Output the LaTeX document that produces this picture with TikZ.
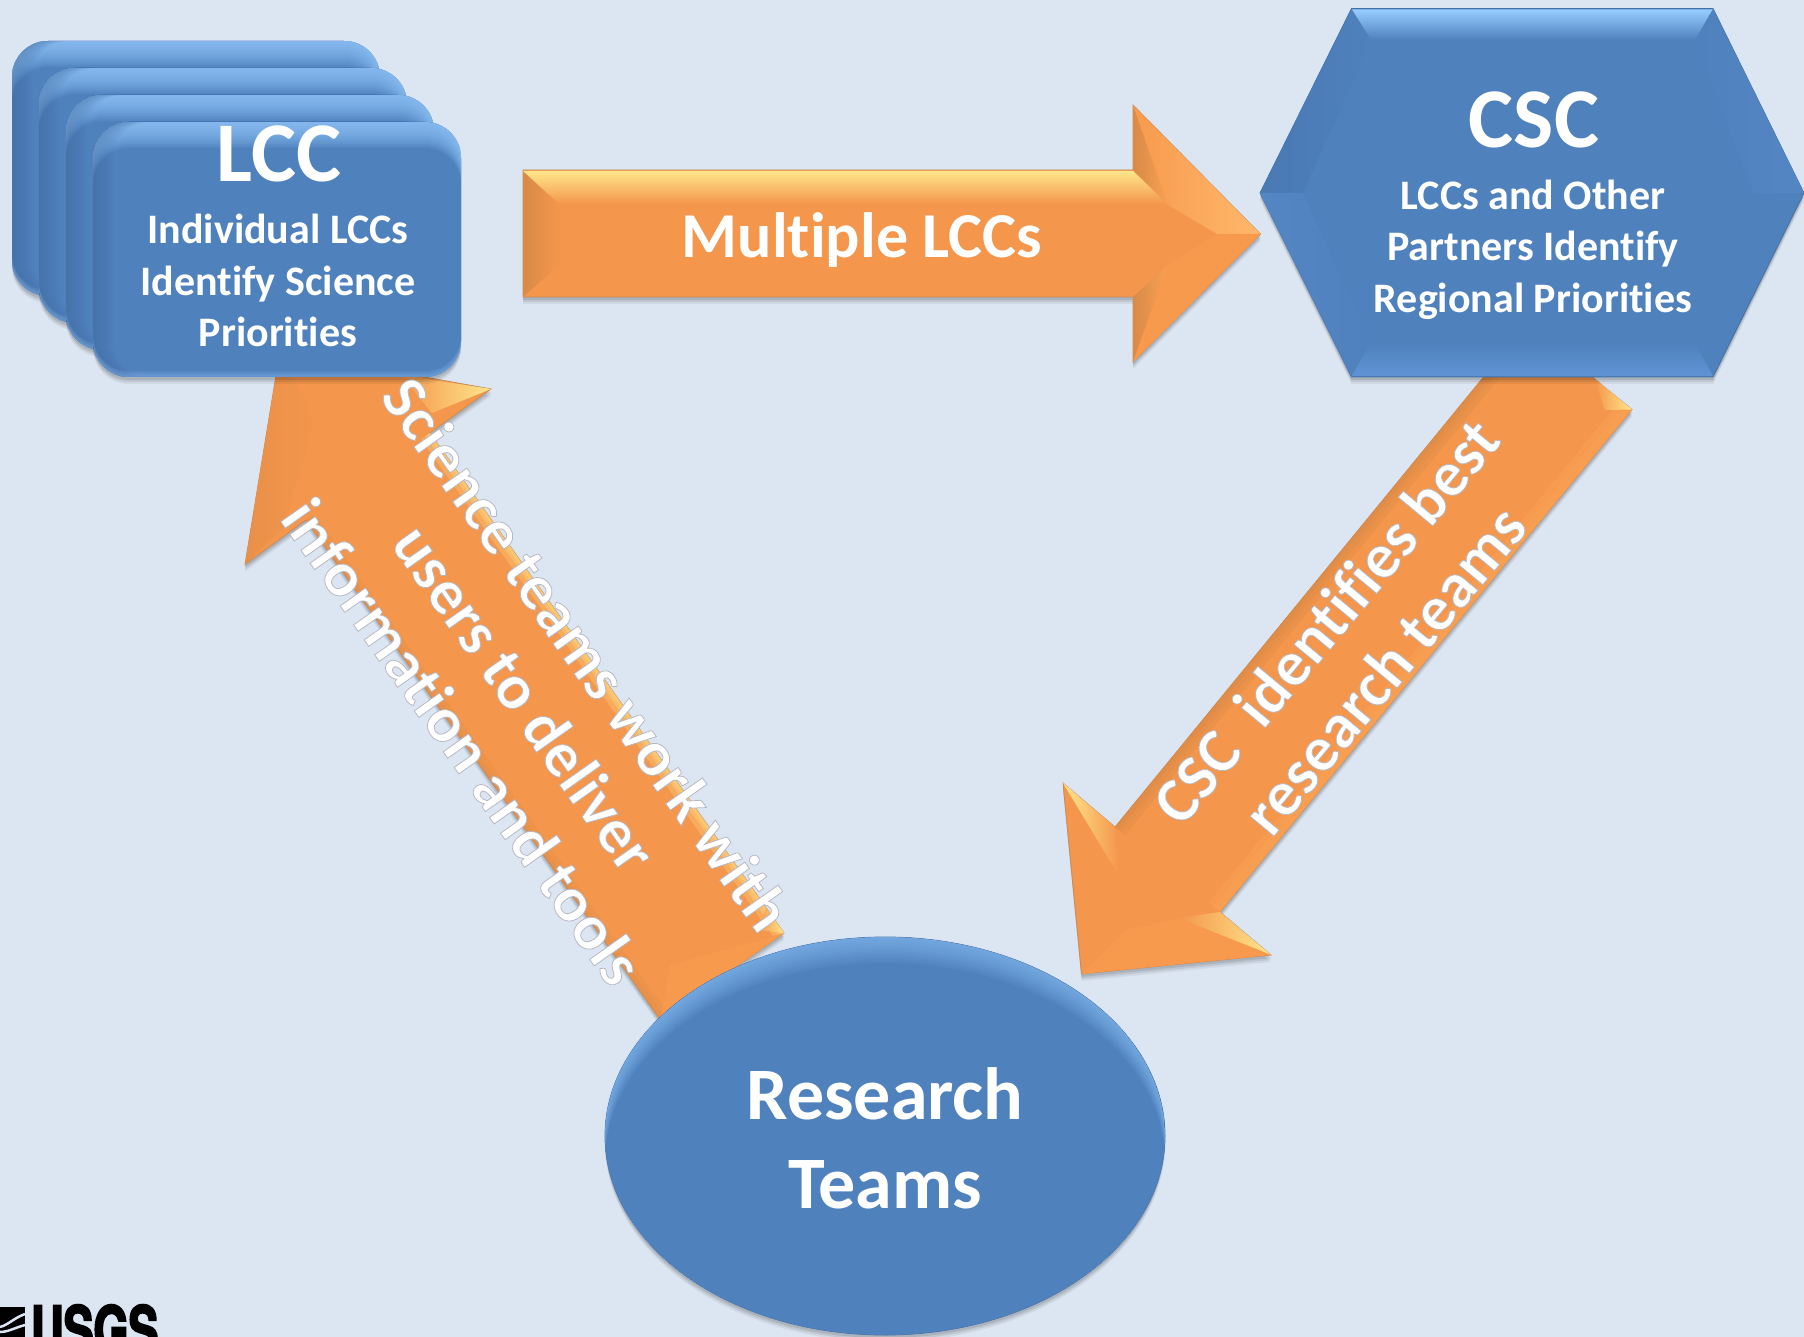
\documentclass[tikz,border=0pt]{standalone}
\usepackage{fontspec}
\setmainfont{Carlito}[Ligatures=NoCommon]
\newfontfamily\usgsfont{TeX Gyre Heros}[FakeStretch=0.68,BoldFeatures={FakeBold=3}]
\usetikzlibrary{shadows}
\definecolor{bgc}{HTML}{DCE6F2}
\definecolor{blu}{HTML}{4F81BD}
\definecolor{blulite}{HTML}{96CCFF}
\definecolor{bludark}{HTML}{3F6699}
\definecolor{bluedge}{HTML}{4570A6}
\definecolor{blusoft}{HTML}{5F93D4}
\definecolor{blurim}{HTML}{8DBBF2}
\definecolor{blumid}{HTML}{5586C4}
\definecolor{blushade}{HTML}{4A79B3}
\definecolor{bluoval}{HTML}{5C90D2}
\definecolor{org}{HTML}{F4964B}
\definecolor{orgdark}{HTML}{D88A48}
\definecolor{orgwarm}{HTML}{E8904A}
\definecolor{orgsoft}{HTML}{F9A153}
\definecolor{orgmild}{HTML}{F79A4E}
\definecolor{orgpale}{HTML}{FFB86B}
\definecolor{orgedge}{HTML}{C98C58}
\definecolor{yel}{HTML}{FFE68C}
\pgfdeclareradialshading{ovalrim}{\pgfpoint{0bp}{0bp}}{color(0bp)=(blu); color(44bp)=(blu); color(50bp)=(bluoval)}
\newcommand{\ringed}[1]{\leavevmode\special{pdf:code q 2 Tr 0.8 w 0.72 0.72 0.76 RG}#1\special{pdf:code Q}}
\tikzset{
  softshadow/.style={
    general shadow={shadow xshift=0pt,shadow yshift=-7pt,fill=black,opacity=.06},
    general shadow={shadow xshift=0pt,shadow yshift=-5pt,fill=black,opacity=.08},
    general shadow={shadow xshift=0pt,shadow yshift=-3pt,fill=black,opacity=.10}},
  orgbody/.style={fill=org,draw=orgedge,line width=.8pt,softshadow},
  blubody/.style={fill=blu,draw=bluedge,line width=.8pt,softshadow},
  title/.style={text=white,font=\bfseries\fontsize{85}{90}\selectfont,inner sep=0pt},
  body/.style={text=white,font=\bfseries\fontsize{42}{51.5}\selectfont,align=center,inner sep=0pt},
  big/.style={text=white,font=\bfseries\fontsize{74}{89}\selectfont,align=center,inner sep=0pt},
  arrowtext/.style={text=white,font=\bfseries\fontsize{64}{76}\selectfont,align=center,inner sep=0pt},
  slanttext/.style={text=white,font=\fontsize{64}{76}\selectfont\bfseries,align=center,inner sep=0pt},
}
\newcommand{\lcccard}[2]{%
  \path[fill=blu,softshadow,rounded corners=36pt] (#1,#2) rectangle ++(368,255);
  \begin{scope}
    \clip[rounded corners=36pt] (#1,#2) rectangle ++(368,255);
    \fill[blu] (#1,#2) rectangle ++(368,255);
    \foreach \d in {2,4,...,26}{
      \fill[blulite,opacity=.105,even odd rule] (#1-5,#2-5) rectangle ++(378,265)
        [rounded corners=36pt] (#1,#2+\d) rectangle ++(368,255);}
    \foreach \d in {2,4,...,20}{
      \fill[bludark,opacity=.05,even odd rule] (#1-5,#2-5) rectangle ++(378,265)
        [rounded corners=36pt] (#1+\d,#2) rectangle ++(368,255);}
    \foreach \d in {1,2,...,6}{
      \fill[blurim,opacity=.1,even odd rule] (#1-5,#2-5) rectangle ++(378,265)
        [rounded corners=36pt] (#1,#2-\d) rectangle ++(368,255);}
  \end{scope}}
\begin{document}
\begin{tikzpicture}[x=1pt,y=-1pt]
\useasboundingbox (0,0) rectangle (1804,1337);
\fill[bgc] (0,0) rectangle (1804,1337);

% USGS mark
\begin{scope}
  \clip (0,0) rectangle (1804,1337);
  \fill[black] (0,1307) rectangle (25,1340);
  \draw[bgc,line width=2.5pt] (25,1314) .. controls (14,1318) and (8,1325) .. (0,1327);
  \draw[bgc,line width=2.5pt] (25,1325) .. controls (14,1328) and (8,1332) .. (0,1332);
  \node[anchor=north west,inner sep=0pt,text=black,font=\usgsfont\bfseries\fontsize{66}{66}\selectfont] (usgs) at (31,1304.5) {USGS};
\end{scope}

% arrow: LCC to CSC
\path[orgbody] (523,170) -- (1133,170) -- (1133,105) -- (1260.5,234) -- (1133,362) -- (1133,297) -- (523,297) -- cycle;
\shade[left color=orgdark,right color=org] (523,170) -- (559,203) -- (559,265) -- (523,297) -- cycle;
\shade[top color=yel,bottom color=org] (523,171) -- (1133,171) -- (1168,204) -- (559,204) -- cycle;
\shade[left color=orgdark,right color=orgsoft] (1133,105) -- (1133,170) -- (1168,205) -- cycle;
\shade[left color=orgdark,right color=orgsoft] (1133,362) -- (1133,297) -- (1168,265) -- cycle;
\shade[left color=orgmild,right color=orgpale] (1133,105) -- (1260.5,234) -- (1217,234) -- (1168,205) -- cycle;
\fill[orgmild] (1133,362) -- (1260.5,234) -- (1217,234) -- (1168,265) -- cycle;

% arrow: CSC to Research Teams
\path[orgbody] (1527,324) -- (1632,409.5) -- (1220,912) -- (1271,955) -- (1081.5,974) -- (1063,783) -- (1115,827) -- cycle;
\begin{scope}
  \clip (1527,324) -- (1632,409.5) -- (1220,912) -- (1271,955) -- (1081.5,974) -- (1063,783) -- (1115,827) -- cycle;
  \foreach \w in {26,16,8}{\draw[orgdark,opacity=.3,line width=\w pt] (1115,827) -- (1527,324);}
  \foreach \w in {30,18}{\draw[orgsoft,opacity=.5,line width=\w pt] (1220,912) -- (1632,409.5);}
\end{scope}
\shade[shading angle=300,left color=yel,right color=org] (1063,783) -- (1115,827) -- (1119,876) -- cycle;
\shade[shading angle=340,left color=org,right color=yel] (1271,955) -- (1220,912) -- (1178,918) -- cycle;
\shade[shading angle=340,left color=org,right color=yel] (1632,409.5) -- (1594,378) -- (1605,410) -- cycle;
\fill[orgmild] (1081.5,974) -- (1271,955) -- (1178,918) -- (1125,930) -- cycle;

% arrow: Research Teams to LCC
\path[orgbody] (280,351) -- (491,389) -- (430,433) -- (784,933) -- (660.5,1020) -- (306,520) -- (245,564.5) -- cycle;
\begin{scope}
  \clip (280,351) -- (491,389) -- (430,433) -- (784,933) -- (660.5,1020) -- (306,520) -- (245,564.5) -- cycle;
  \foreach \w in {22,12,6}{\draw[yel,opacity=.28,line width=\w pt] (430,433) -- (784,933);}
  \foreach \w in {20,10}{\draw[orgdark,opacity=.2,line width=\w pt] (306,520) -- (660.5,1020);}
\end{scope}
\shade[shading angle=20,left color=org,right color=yel] (491,389) -- (400,375) -- (432,413) -- cycle;
\shade[shading angle=20,left color=org,right color=yel] (784,933) -- (758,930) -- (766,908) -- cycle;
\shade[left color=orgwarm,right color=org] (245,564.5) -- (280,351) -- (315,420) -- (283,528) -- cycle;
\fill[orgmild] (660.5,1020) -- (784,933) -- (670,965) -- cycle;

% LCC cards
\lcccard{12}{41}
\lcccard{39}{68}
\lcccard{66}{95}
\lcccard{93}{122}
\node[title,anchor=base] (lcc) at (279,182) {LCC};
\node[body] (lccbody) at (278,280.5) {Individual LCCs\\Identify Science\\Priorities};

% CSC hexagon
\path[blubody] (1260,193) -- (1351.5,8.5) -- (1713,8.5) -- (1804,193) -- (1713,377) -- (1351.5,377) -- cycle;
\shade[top color=blulite,bottom color=blu] (1351.5,9.5) -- (1713,9.5) -- (1695,40) -- (1371,40) -- cycle;
\shade[left color=blushade,right color=blu] (1260,193) -- (1351.5,9) -- (1371,40) -- (1303,193) -- cycle;
\shade[left color=blumid,right color=blu] (1260,193) -- (1351.5,377) -- (1371,343) -- (1303,193) -- cycle;
\shade[left color=blu,right color=blumid] (1804,193) -- (1713,9) -- (1695,40) -- (1754,193) -- cycle;
\shade[top color=blu,bottom color=blusoft] (1351.5,376) -- (1713,376) -- (1695,343) -- (1371,343) -- cycle;
\node[title,anchor=base] (csc) at (1534,148) {CSC};
\node[body] (cscbody) at (1533,249.5) {LCCs and Other\\Partners Identify\\Regional Priorities};

% Research Teams ellipse
\path[blubody] (885,1136) ellipse [x radius=280,y radius=199];
\begin{scope}
  \clip (885,1136) ellipse [x radius=280,y radius=199];
  \path[shading=ovalrim] (605,937) rectangle (1165,1335);
  \foreach \d in {2,4,...,26}{
    \fill[blulite,opacity=.06,even odd rule] (885,1136) ellipse [x radius=280,y radius=199] (885,1136+\d) ellipse [x radius=280,y radius=199];}
\end{scope}
\node[big] (teams) at (885,1138.5) {Research\\Teams};

% labels on the arrows
\node[arrowtext,anchor=base] (multi) at (862,257.5) {Multiple LCCs};
\node[slanttext,rotate=50.3] (csclabel) at (1354.5,645) {\ringed{CSC\ \ identifies best}\\\ringed{research teams}};
\node[slanttext,rotate=-54.8] (scilabel) at (525,697.5) {\ringed{Science teams work with}\\\ringed{users to deliver}\\\ringed{information and tools}};
\end{tikzpicture}
\end{document}
